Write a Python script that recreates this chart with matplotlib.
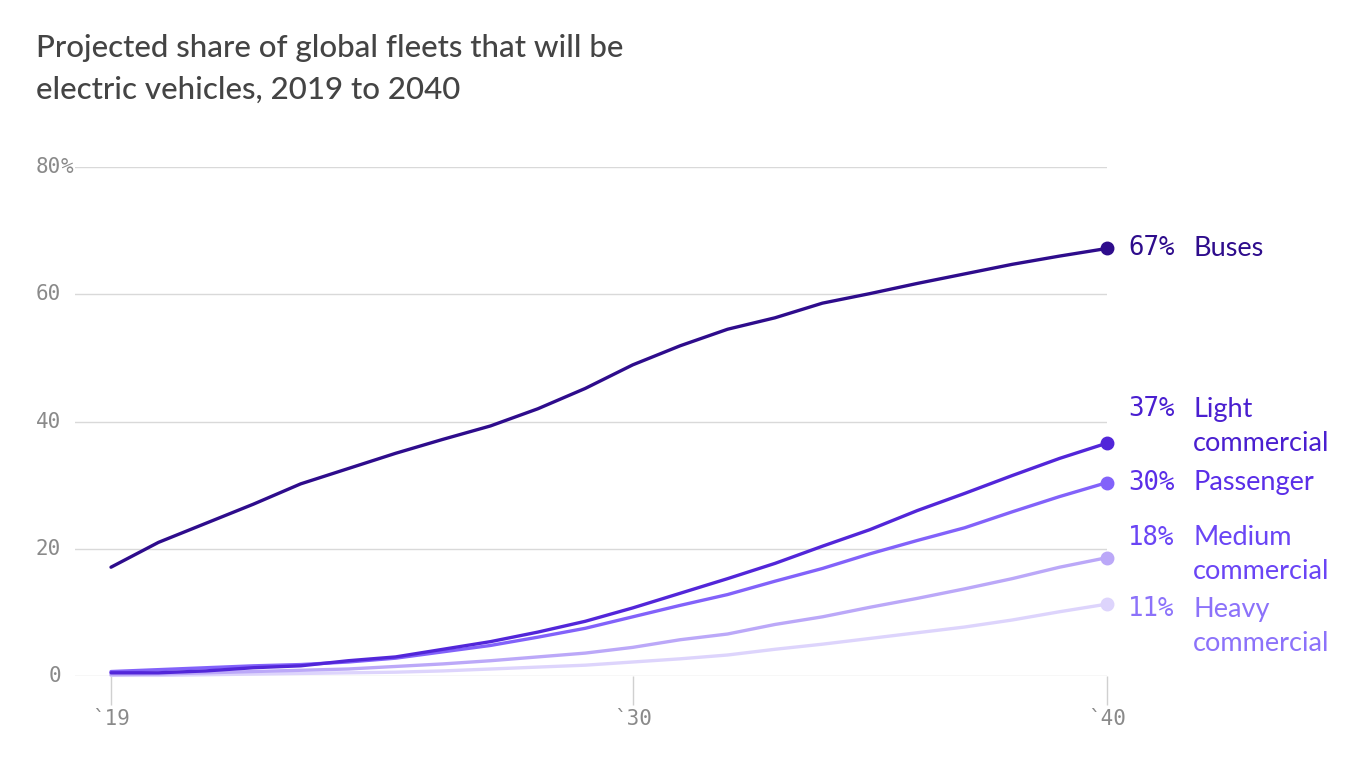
import matplotlib
matplotlib.use("Agg")
import matplotlib.pyplot as plt
import matplotlib.transforms as mtransforms

# ── data ──────────────────────────────────────────────────────────────────────
years = list(range(2019, 2041))

buses = [17.1, 21.0, 24.0, 27.0, 30.2, 32.6, 35.0, 37.2, 39.3, 42.0, 45.2,
         48.9, 51.9, 54.5, 56.3, 58.6, 60.1, 61.7, 63.2, 64.7, 66.0, 67.2]
light_comm = [0.5, 0.5, 0.8, 1.3, 1.6, 2.4, 3.0, 4.2, 5.4, 6.9, 8.6,
              10.7, 13.0, 15.3, 17.7, 20.4, 23.0, 26.0, 28.7, 31.5, 34.2, 36.6]
passenger = [0.7, 1.0, 1.3, 1.6, 1.8, 2.2, 2.8, 3.8, 4.8, 6.1, 7.5,
             9.3, 11.1, 12.8, 14.9, 16.9, 19.2, 21.3, 23.3, 25.8, 28.2, 30.4]
medium_comm = [0.2, 0.3, 0.5, 0.7, 0.9, 1.1, 1.5, 1.9, 2.4, 3.0, 3.6,
               4.5, 5.7, 6.6, 8.1, 9.3, 10.8, 12.2, 13.7, 15.3, 17.1, 18.6]
heavy_comm = [0.1, 0.1, 0.2, 0.3, 0.4, 0.5, 0.6, 0.8, 1.1, 1.4, 1.7,
              2.2, 2.7, 3.3, 4.2, 5.0, 5.9, 6.8, 7.7, 8.8, 10.1, 11.3]

end_labels = ["67%", "37%", "30%", "18%", "11%"]
names = [["Buses"], ["Light", "commercial"], ["Passenger"],
         ["Medium", "commercial"], ["Heavy", "commercial"]]

y_ticks = [0, 20, 40, 60, 80]
x_ticks = [2019, 2030, 2040]
x_ticklabels = ["`19", "`30", "`40"]

# ── styling ───────────────────────────────────────────────────────────────────
series = [buses, light_comm, passenger, medium_comm, heavy_comm]
line_cols = ["#2e0c8c", "#5226d9", "#8262fa", "#bba8f8", "#ddd4fc"]
text_cols = ["#2e0c8c", "#4a1fd0", "#5a2ee8", "#6a45f5", "#8c72fa"]
label_dy = [0, -34, 0, -20, 5]   # pixel shift of first label line

SANS = "Lato"
MONO = "DejaVu Sans Mono"

fig = plt.figure(figsize=(13.66, 7.68), dpi=100)
ax = fig.add_axes([75 / 1366, 1 - 676 / 768, (1107 - 75) / 1366, (676 - 167) / 768])

ax.set_xlim(2019 - 36 / 47.43, 2040)
ax.set_ylim(0, 80)

for s in ax.spines.values():
    s.set_visible(False)

for yv in y_ticks:
    ax.axhline(yv, color="#d9d9d9", lw=1, zorder=0)

# lines, lightest first
for i in reversed(range(len(series))):
    ax.plot(years, series[i], color=line_cols[i], lw=2.4, zorder=3 + (5 - i),
            solid_capstyle="round", clip_on=False)
    ax.plot(years[-1], series[i][-1], "o", color=line_cols[i], ms=9,
            zorder=10 + (5 - i), clip_on=False)

# y labels: numbers right-aligned, "%" hanging
ytrans = mtransforms.blended_transform_factory(fig.transFigure, ax.transData)
for yv in y_ticks:
    ax.text(61 / 1366, yv, str(yv), transform=ytrans, ha="right", va="center",
            fontsize=15, family=MONO, color="#8a8a8a")
ax.text(61 / 1366, 80, "%", transform=ytrans, ha="left", va="center",
        fontsize=15, family=MONO, color="#8a8a8a")
ax.set_yticks([])

ax.set_xticks(x_ticks)
ax.set_xticklabels(x_ticklabels, family=MONO, fontsize=15, color="#8a8a8a")
ax.tick_params(axis="x", length=21, width=1, color="#d0d0d0", pad=3)

# end labels
for i in range(len(series)):
    yv = series[i][-1]
    ax.annotate(end_labels[i], (years[-1], yv), xytext=(21, -label_dy[i]),
                textcoords="offset pixels", ha="left", va="center",
                fontsize=18.5, family=MONO, color=text_cols[i])
    for j, line in enumerate(names[i]):
        ax.annotate(line, (years[-1], yv), xytext=(86, -label_dy[i] - 34 * j),
                    textcoords="offset pixels", ha="left", va="center",
                    fontsize=19.5, family=SANS, color=text_cols[i])

fig.text(36 / 1366, 1 - 48 / 768, "Projected share of global fleets that will be",
         ha="left", va="center", fontsize=22.5, family=SANS, weight="medium", color="#444444")
fig.text(36 / 1366, 1 - 90 / 768, "electric vehicles, 2019 to 2040",
         ha="left", va="center", fontsize=22.5, family=SANS, weight="medium", color="#444444")

fig.savefig("out.png", dpi=100)
